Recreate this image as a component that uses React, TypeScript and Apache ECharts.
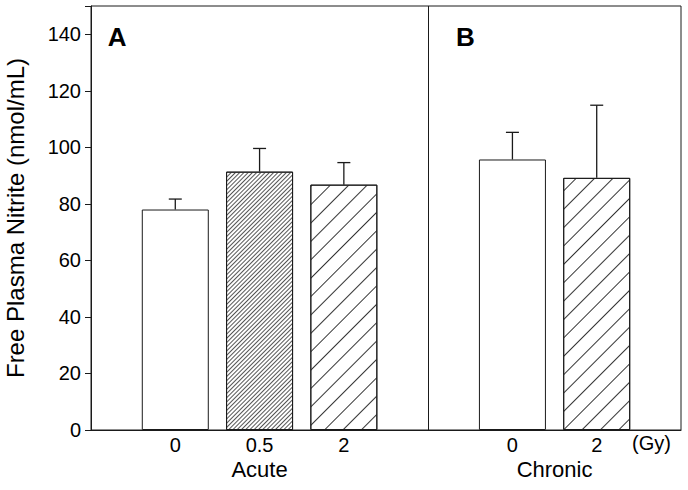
import React, { useEffect, useRef } from "react";
import * as echarts from "echarts";

// ---- data ----
const xPositions = [1, 2, 3, 5, 6];
const doseLabels = ["0", "0.5", "2", "0", "2"];
const means = [78.0, 91.4, 86.8, 95.7, 89.2];
const upperErr = [81.7, 99.6, 94.6, 105.3, 114.9];
const hatch = ["none", "dense", "sparse", "none", "sparse"];
const groupNames = ["Acute", "Chronic"];
const groupCenters = [2, 5.5];
const panelLetters = ["A", "B"];
const panelLetterX = [0.2, 4.33];
const dividerX = 4;
const unitLabel = "(Gy)";
const unitX = 6.65;
const yTicksMax = 150;
const yInterval = 20;

const FONT = "Arial, 'Liberation Sans', sans-serif";
const INK = "#1a1a1a";

const decals: Record<string, any> = {
  dense: {
    symbol: "rect",
    symbolSize: 1,
    dashArrayX: [1, 0],
    dashArrayY: [1, 2],
    rotation: -Math.PI / 4,
    color: "#555",
    backgroundColor: "#fff",
  },
  sparse: {
    symbol: "rect",
    symbolSize: 1,
    dashArrayX: [1, 0],
    dashArrayY: [1, 12],
    rotation: -Math.PI / 4,
    color: "#333",
    backgroundColor: "#fff",
  },
};

export default function App() {
  const ref = useRef<HTMLDivElement>(null);
  useEffect(() => {
    if (!ref.current) return;
    document.body.style.margin = "0";
    const chart = echarts.init(ref.current, null, { renderer: "svg" });
    const barData = xPositions.map((x, i) => ({
      value: [x, means[i]],
      itemStyle:
        hatch[i] === "none"
          ? { color: "#fff", borderColor: INK, borderWidth: 1 }
          : { color: "#fff", borderColor: INK, borderWidth: 1, decal: decals[hatch[i]] },
    }));
    const errData = xPositions.map((x, i) => [x, means[i], upperErr[i]]);
    const option: any = {
      animation: false,
      backgroundColor: "#fff",
      grid: {
        left: 91,
        right: 7,
        top: 6,
        bottom: 60,
        containLabel: false,
        outerBoundsMode: "none",
        show: true,
        borderColor: INK,
        borderWidth: 1,
        backgroundColor: "transparent",
      },
      xAxis: {
        type: "value",
        min: 0,
        max: 7,
        interval: 1,
        splitLine: { show: false },
        axisTick: { show: false },
        axisLine: { show: true, lineStyle: { color: INK, width: 1 } },
        axisLabel: {
          color: "#000",
          fontFamily: FONT,
          fontSize: 20,
          margin: 5,
          showMinLabel: true,
          showMaxLabel: true,
          formatter: (v: number) => {
            const idx = xPositions.indexOf(v);
            return idx >= 0 ? doseLabels[idx] : "";
          },
        },
      },
      yAxis: {
        type: "value",
        min: 0,
        max: yTicksMax,
        interval: yInterval,
        splitLine: { show: false },
        axisLine: { show: true, lineStyle: { color: INK, width: 1 } },
        axisTick: { show: true, inside: false, length: 6, lineStyle: { color: INK } },
        axisLabel: {
          color: "#000",
          fontFamily: FONT,
          fontSize: 20,
          margin: 10,
          formatter: (v: number) => (v === yTicksMax ? "" : String(v)),
        },
        name: "Free Plasma Nitrite (nmol/mL)",
        nameLocation: "middle",
        nameGap: 64,
        nameTextStyle: { color: "#000", fontFamily: FONT, fontSize: 24 },
      },
      series: [
        {
          type: "bar",
          data: barData,
          barWidth: 67,
          markLine: {
            silent: true,
            symbol: "none",
            label: { show: false },
            lineStyle: { color: INK, width: 1, type: "solid" },
            data: [{ xAxis: dividerX }],
          },
        },
        {
          type: "custom",
          data: errData,
          renderItem: (params: any, api: any) => {
            const x = api.value(0);
            const base = api.coord([x, api.value(1)]);
            const top = api.coord([x, api.value(2)]);
            const style = { stroke: INK, lineWidth: 1.3 };
            return {
              type: "group",
              children: [
                { type: "line", shape: { x1: base[0], y1: base[1], x2: top[0], y2: top[1] }, style },
                { type: "line", shape: { x1: top[0] - 6.5, y1: top[1], x2: top[0] + 6.5, y2: top[1] }, style },
              ],
            };
          },
        },
      ],
    };
    chart.setOption(option);

    const graphics: any[] = [];
    groupNames.forEach((g, i) => {
      const p = chart.convertToPixel({ gridIndex: 0 }, [groupCenters[i], 0]);
      graphics.push({
        type: "text",
        x: p[0],
        y: 469,
        style: { text: g, fill: "#000", font: `22px ${FONT}`, textAlign: "center", textVerticalAlign: "middle" },
      });
    });
    panelLetters.forEach((l, i) => {
      const p = chart.convertToPixel({ gridIndex: 0 }, [panelLetterX[i], 140]);
      graphics.push({
        type: "text",
        x: p[0],
        y: 37,
        style: { text: l, fill: "#000", font: `bold 26px ${FONT}`, textAlign: "left", textVerticalAlign: "middle" },
      });
    });
    const pu = chart.convertToPixel({ gridIndex: 0 }, [unitX, 0]);
    graphics.push({
      type: "text",
      x: pu[0],
      y: 443,
      style: { text: unitLabel, fill: "#000", font: `20px ${FONT}`, textAlign: "center", textVerticalAlign: "middle" },
    });
    chart.setOption({ graphic: graphics });

    return () => chart.dispose();
  }, []);
  return <div ref={ref} style={{ width: 688, height: 490 }} />;
}
